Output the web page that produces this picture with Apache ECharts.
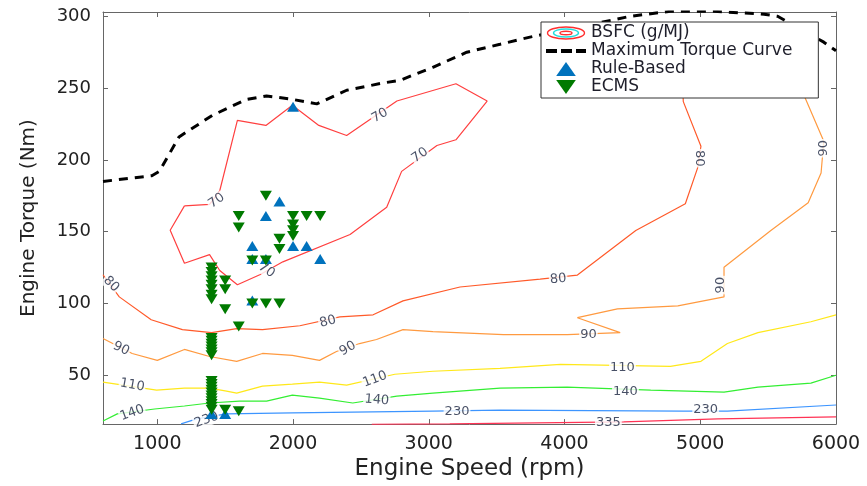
<!DOCTYPE html>
<html>
<head>
<meta charset="utf-8">
<script src="https://cdn.jsdelivr.net/npm/echarts@6/dist/echarts.min.js"></script>
<style>
html,body{margin:0;padding:0;background:#fff;}
#chart{width:867px;height:486px;}
</style>
</head>
<body>
<div id="chart"></div>
<script>
// ---- Data ----
const xTicks = [1000, 2000, 3000, 4000, 5000, 6000];
const yTicks = [50, 100, 150, 200, 250, 300];

// Maximum torque curve
const maxTorqueRpm = [600, 960, 1015, 1160, 1405, 1655, 1805, 1975, 2175, 2395, 2660, 2790, 3030, 3280, 3525, 3745, 4485, 4780, 5100, 5470, 5570, 5910, 6000];
const maxTorqueNm  = [185, 189, 192, 216, 231, 242, 244.5, 242.5, 239, 248.5, 253.5, 255.5, 264.5, 275, 280.5, 285.5, 300, 303.5, 303.5, 301.5, 300, 282, 276];

// BSFC contour levels (g/MJ): [rpm, Nm] vertices
const contour70 = [[1200,168],[1095,151],[1200,128],[1385,134],[1460,123],[1590,113],[1755,120],[1925,129],[2420,148],[2690,167],[2800,192],[3060,210],[3200,214],[3430,241],[3200,253],[2765,241],[2395,217],[2190,224],[1995,238],[1800,224],[1590,227.5],[1460,178.5],[1385,169],[1200,168]];
const contour80 = [[600,120],[720,104.6],[955,88.7],[1185,81.8],[1400,79.7],[1585,82.5],[1775,81.8],[2050,84.5],[2345,90.7],[2590,92.1],[2810,101.8],[3230,111.5],[3820,117],[4095,119.8],[4525,150.8],[4890,169.5],[4980,194.3],[5005,209.5],[4875,240.6],[4860,275]];
const contour90 = [[600,75.6],[815,65.2],[1000,60.4],[1200,68],[1385,63.1],[1585,59.7],[1775,65.2],[1995,63.8],[2195,60.4],[2320,66.6],[2490,72.1],[2615,74.9],[2810,81.8],[3030,80.4],[3550,78.3],[4020,78.3],[4410,79.7],[4095,90.1],[4390,96.3],[4835,98.3],[5175,104.6],[5175,125.3],[5520,150.8],[5795,170.2],[5890,190.9],[5910,213],[5765,244.8],[5700,280]];
const contour110 = [[600,45.2],[995,39.6],[1200,41],[1385,41],[1510,39],[1585,37.6],[1775,42.4],[1995,43.8],[2195,45.2],[2395,43.1],[2750,50.7],[3030,52.8],[3525,54.8],[3970,57.6],[4780,56.2],[5005,59.7],[5200,72.1],[5425,79.7],[5815,87.3],[6000,92.1]];
const contour140 = [[600,18.2],[705,23.1],[980,26.5],[1200,28.6],[1385,30.7],[1605,32],[1805,32],[1995,36.2],[2195,34.1],[2440,30.7],[2765,35.5],[3030,37.6],[3525,41],[4020,41.7],[4635,39.6],[5175,38.3],[5425,41.7],[5815,44.5],[6000,50]];
const contour230 = [[1175,16.2],[1290,19.6],[1510,23.1],[1995,23.8],[3030,25.1],[3525,25.8],[4875,25.1],[5200,25.1],[6000,29.3]];
const contour335 = [[2580,15.8],[3155,16.2],[4435,17.5],[5130,19.6],[6000,21]];

const contourLevels = ['70', '80', '90', '110', '140', '230', '335'];
const contourPaths  = [contour70, contour80, contour90, contour110, contour140, contour230, contour335];

// contour labels
const contourLabelText = ['70','70','70','70','80','80','80','80','90','90','90','90','90','110','110','110','140','140','140','230','230','230','335','335'];
const contourLabelRpm  = [1436,2640,2935,1805,660,2256,3954,4996,734,2403,4176,5151,5911,815,2603,4427,815,2617,4449,1362,3208,5040,2470,4323];
const contourLabelNm   = [171.5,230.9,203.3,123.2,113.5,87.3,117,201.2,68.6,68.6,78.3,112.8,208.1,43.1,47.2,55.5,23.8,32.7,38.9,18.9,24.4,25.8,15.5,16.9];

// operating points
const ruleBasedRpm = [2000, 1900, 1800, 1700, 2000, 2100, 2200, 1700, 1800, 1700, 1400, 1500];
const ruleBasedNm  = [237, 171, 161, 140, 140, 140, 131, 131, 131, 102, 23, 23];

const ecmsRpm = [1800,1600,1600,2000,2100,2200,2000,2000,2000,1900,1900,1700,1800,1700,1800,1900,1500,1500,1500,1600,
  1400,1400,1400,1400,1400,1400,1400,1400,
  1400,1400,1400,1400,1400,1400,1400,
  1400,1400,1400,1400,1400,1400,1400,1400,1400,1400,1400,
  1500,1600];
const ecmsNm = [175,161,153,161,161,161,155,151,147,145,138,130,130,100,100,100,116,110,96,84,
  125,122,119,116,113,110,106,103,
  76,74,72,70,68,66,64,
  46,44,42,40,38,36,34,32,30,28,26,
  26,25];

// ---- styles ----
const contourColors = ['#ff4040', '#ff5a2a', '#ff9a40', '#ffe81a', '#33ee33', '#3d95ff', '#ff3355'];
const labelAngles = [35,30,35,-35,-45,15,5,-90,-25,30,0,90,90,-10,20,0,20,-5,0,20,0,0,0,0];
const FONT = 'DejaVu Sans';

const zip = (a, b) => a.map((v, i) => [v, b[i]]);
const plain = v => String(v);

const bsfcIcon = 'image://data:image/svg+xml;charset=utf-8,' + encodeURIComponent(
  "<svg xmlns='http://www.w3.org/2000/svg' width='40' height='14' viewBox='0 0 40 14'>" +
  "<ellipse cx='20' cy='7' rx='18.5' ry='6' fill='none' stroke='#ff3030' stroke-width='1.4'/>" +
  "<ellipse cx='20' cy='7' rx='12.5' ry='4' fill='none' stroke='#22dddd' stroke-width='1.4'/>" +
  "<ellipse cx='20' cy='7' rx='6' ry='1.8' fill='none' stroke='#ff3030' stroke-width='1.4'/>" +
  "</svg>");

const series = [];
contourPaths.forEach((path, i) => {
  series.push({
    type: 'line', name: 'BSFC (g/MJ)', data: path, symbol: 'none',
    lineStyle: { color: contourColors[i], width: 1.2 },
    itemStyle: { color: contourColors[i] },
    silent: true, z: 2, clip: true
  });
});
series.push({
  type: 'scatter', name: 'labels', symbolSize: 0, silent: true, z: 3,
  data: contourLabelText.map((t, i) => ({
    value: [contourLabelRpm[i], contourLabelNm[i]],
    label: { formatter: t, rotate: labelAngles[i] }
  })),
  label: {
    show: true, position: 'inside', fontSize: 13, fontFamily: FONT,
    color: '#1a2440', backgroundColor: '#ffffff', padding: [0, 1]
  }
});
series.push({
  type: 'line', name: 'Maximum Torque Curve', data: zip(maxTorqueRpm, maxTorqueNm), symbol: 'none',
  lineStyle: { color: '#000', width: 3, type: [9, 7] }, itemStyle: { color: '#000' }, z: 4, clip: true
});
series.push({
  type: 'scatter', name: 'Rule-Based', data: zip(ruleBasedRpm, ruleBasedNm),
  symbol: 'triangle', symbolSize: [12, 10], itemStyle: { color: '#0072bd', opacity: 1 }, z: 5
});
series.push({
  type: 'scatter', name: 'ECMS', data: zip(ecmsRpm, ecmsNm),
  symbol: 'triangle', symbolRotate: 180, symbolSize: [12, 10], itemStyle: { color: '#007a00', opacity: 1 }, z: 6
});

const axisCommon = {
  axisLine: { show: true, onZero: false, lineStyle: { color: '#666', width: 1 } },
  splitLine: { show: false }
};

const option = {
  animation: false,
  backgroundColor: '#fff',
  grid: { left: 103, right: 31, top: 12, bottom: 57, containLabel: false },
  xAxis: [
    Object.assign({}, axisCommon, {
      type: 'value', min: 600, max: 6000, position: 'bottom',
      axisTick: { show: true, inside: true, length: 5, lineStyle: { color: '#666' }, customValues: xTicks },
      axisLabel: { show: true, customValues: xTicks, formatter: plain, fontSize: 19, fontFamily: FONT, color: '#222', margin: 10 },
      name: 'Engine Speed (rpm)', nameLocation: 'middle', nameGap: 30,
      nameTextStyle: { fontSize: 23, fontFamily: FONT, color: '#222' }
    }),
    Object.assign({}, axisCommon, {
      type: 'value', min: 600, max: 6000, position: 'top',
      axisTick: { show: true, inside: true, length: 5, lineStyle: { color: '#666' }, customValues: xTicks },
      axisLabel: { show: false }
    })
  ],
  yAxis: [
    Object.assign({}, axisCommon, {
      type: 'value', min: 16, max: 303, position: 'left',
      axisTick: { show: true, inside: true, length: 5, lineStyle: { color: '#666' }, customValues: yTicks },
      axisLabel: { show: true, customValues: yTicks, formatter: plain, fontSize: 18, fontFamily: FONT, color: '#222', margin: 12 },
      name: 'Engine Torque (Nm)', nameLocation: 'middle', nameGap: 64, nameRotate: 90,
      nameTextStyle: { fontSize: 20, fontFamily: FONT, color: '#222' }
    }),
    Object.assign({}, axisCommon, {
      type: 'value', min: 16, max: 303, position: 'right',
      axisTick: { show: true, inside: true, length: 5, lineStyle: { color: '#666' }, customValues: yTicks },
      axisLabel: { show: false }
    })
  ],
  legend: {
    orient: 'vertical', left: 541, top: 22,
    backgroundColor: '#fff', borderColor: '#333', borderWidth: 1,
    padding: [2, 26, 2, 5], itemGap: 0, itemWidth: 40, itemHeight: 14,
    textStyle: { fontSize: 17, lineHeight: 18, fontFamily: FONT, color: '#1e1e2a' },
    selectedMode: false, z: 10,
    data: [
      { name: 'BSFC (g/MJ)', icon: bsfcIcon },
      { name: 'Maximum Torque Curve', icon: 'path://M0,5h11v4h-11z M15,5h11v4h-11z M30,5h10v4h-10z' },
      { name: 'Rule-Based', icon: 'path://M13,2L20,12L6,12Z' },
      { name: 'ECMS', icon: 'path://M6,2L20,2L13,12Z' }
    ]
  },
  series: series
};

const chart = echarts.init(document.getElementById('chart'), null, { renderer: 'canvas' });
chart.setOption(option);
</script>
</body>
</html>
